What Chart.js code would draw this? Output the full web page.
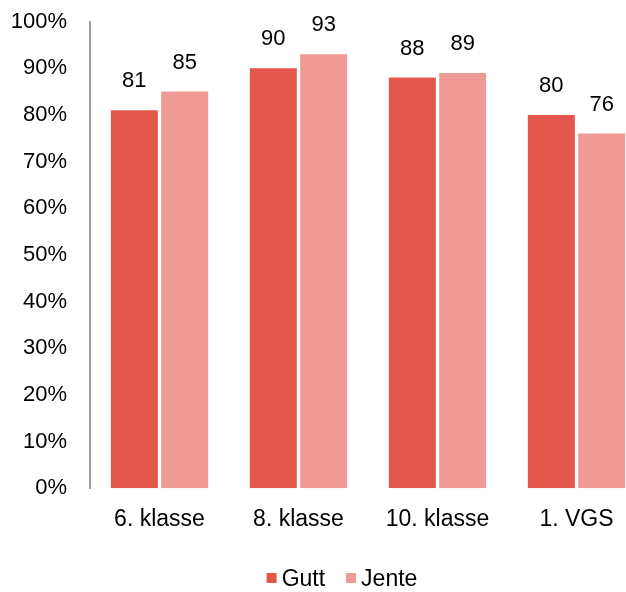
<!DOCTYPE html>
<html>
<head>
<meta charset="utf-8">
<script src="https://cdn.jsdelivr.net/npm/chart.js@4/dist/chart.umd.min.js"></script>
<style>
  html, body { margin: 0; padding: 0; background: #fff; overflow: hidden; width: 626px; height: 592px; }
  #wrap { width: 684px; height: 592px; }
</style>
</head>
<body>
<div id="wrap"><canvas id="c" width="684" height="592"></canvas></div>
<script>
const categories = ["6. klasse", "8. klasse", "10. klasse", "1. VGS"];
const gutt = [81, 90, 88, 80];
const jente = [85, 93, 89, 76];
const seriesNames = ["Gutt", "Jente"];
const yTicks = [0, 10, 20, 30, 40, 50, 60, 70, 80, 90, 100];

const FONT = "'Liberation Sans', Arial, sans-serif";
const GUTT_COLOR = "#E3574D";
const JENTE_COLOR = "#EF9A94";

const valueLabels = {
  id: 'valueLabels',
  afterDatasetsDraw(chart) {
    const ctx = chart.ctx;
    ctx.save();
    ctx.font = "22px " + FONT;
    ctx.fillStyle = "#000";
    ctx.textAlign = "center";
    ctx.textBaseline = "middle";
    chart.data.datasets.forEach((ds, i) => {
      chart.getDatasetMeta(i).data.forEach((bar, j) => {
        ctx.fillText(String(ds.data[j]), bar.x, bar.y - 29);
      });
    });
    ctx.restore();
  }
};

const customLegend = {
  id: 'customLegend',
  afterDraw(chart) {
    const ctx = chart.ctx;
    ctx.save();
    ctx.font = "23px " + FONT;
    ctx.textBaseline = "middle";
    ctx.textAlign = "left";
    const box = 10, gap = 5, spacing = 21;
    const items = chart.data.datasets.map(ds => ({label: ds.label, color: ds.backgroundColor, w: ctx.measureText(ds.label).width}));
    let total = 0;
    items.forEach((it, i) => { total += box + gap + it.w + (i < items.length - 1 ? spacing : 0); });
    let x = chart.width / 2 - total / 2;
    const cy = 580;
    items.forEach(it => {
      ctx.fillStyle = it.color;
      ctx.fillRect(x, cy - 7, box, box);
      x += box + gap;
      ctx.fillStyle = "#000";
      ctx.fillText(it.label, x, cy);
      x += it.w + spacing;
    });
    ctx.restore();
  }
};

function zeroPad(s) { s.paddingTop = 0; s.paddingBottom = 0; s.paddingLeft = 0; s.paddingRight = 0; }

new Chart(document.getElementById('c'), {
  type: 'bar',
  data: {
    labels: categories,
    datasets: [
      { label: seriesNames[0], data: gutt, backgroundColor: GUTT_COLOR, categoryPercentage: 0.724, barPercentage: 0.934 },
      { label: seriesNames[1], data: jente, backgroundColor: JENTE_COLOR, categoryPercentage: 0.724, barPercentage: 0.934 }
    ]
  },
  options: {
    responsive: false,
    animation: false,
    devicePixelRatio: 1,
    layout: { padding: { top: 21.6, bottom: 53.7, left: 0, right: 0 } },
    plugins: {
      legend: { display: false },
      tooltip: { enabled: false }
    },
    scales: {
      x: {
        grid: { display: false, drawTicks: false },
        border: { display: false },
        ticks: { color: "#000", font: { family: FONT, size: 23 }, padding: 18, maxRotation: 0 },
        afterFit(s) { s.height = 50; zeroPad(s); }
      },
      y: {
        min: 0, max: 100,
        afterBuildTicks(s) { s.ticks = yTicks.map(v => ({ value: v })); },
        grid: { display: false, drawTicks: false },
        border: { display: true, color: "#A0A0A0", width: 2 },
        ticks: { color: "#000", font: { family: FONT, size: 22 }, padding: 23, callback: v => v + "%" },
        afterFit(s) { s.width = 90; zeroPad(s); }
      },
      yR: {
        type: 'linear', position: 'right', display: true,
        grid: { display: false, drawTicks: false },
        border: { display: false },
        ticks: { display: false },
        afterFit(s) { s.width = 38; zeroPad(s); }
      }
    }
  },
  plugins: [valueLabels, customLegend]
});
</script>
</body>
</html>
